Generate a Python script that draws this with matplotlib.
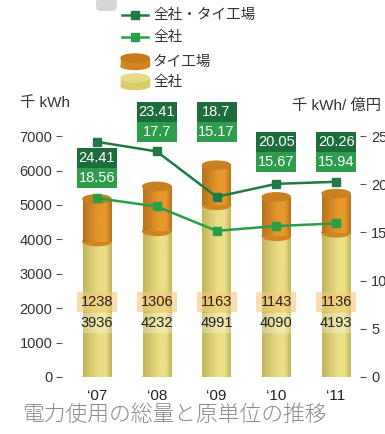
import numpy as np
import matplotlib
matplotlib.use("Agg")
import matplotlib.pyplot as plt
from matplotlib.patches import Ellipse, Rectangle, FancyBboxPatch
from matplotlib.lines import Line2D
from matplotlib.transforms import blended_transform_factory

plt.rcParams['font.family'] = ['Liberation Sans', 'Noto Sans CJK JP', 'DejaVu Sans']

# data
years = ["‘07", "‘08", "‘09", "‘10", "‘11"]
zensha = [3936, 4232, 4991, 4090, 4193]          # 全社 (千 kWh)
thai = [1238, 1306, 1163, 1143, 1136]            # タイ工場 (千 kWh)
unit_all = [24.41, 23.41, 18.7, 20.05, 20.26]    # 全社・タイ工場 (千 kWh/億円)
unit_zensha = [18.56, 17.7, 15.17, 15.67, 15.94] # 全社 (千 kWh/億円)

# label box heights (axes fraction) – layout only
box_y = [0.755, 0.921, 0.921, 0.812, 0.812]

W, H = 385, 434
fig = plt.figure(figsize=(W / 100, H / 100), dpi=100)


def fx(px):
    return px / W


def fy(py):
    return 1 - py / H


ax = fig.add_axes([fx(62), fy(377), fx(360) - fx(62), fy(100) - fy(377)])
ax2 = ax.twinx()
ax.set_zorder(1)
ax2.set_zorder(2)
ax.patch.set_visible(False)
ax2.patch.set_visible(False)

x = np.arange(len(years))
bw = 0.47
ell_h = 240
ax.set_xlim(-0.585, 4.4)
ax.set_ylim(0, 8050)
ax2.set_ylim(0, 8050 / 280)


def grad_cmap(c_dark, c_light):
    from matplotlib.colors import LinearSegmentedColormap
    return LinearSegmentedColormap.from_list(
        "g", [(0, c_dark), (0.55, c_light), (0.8, c_light), (1, c_dark)])


yel = grad_cmap("#c2b45a", "#eadf86")
org = grad_cmap("#b8721c", "#e6982c")
grad = np.linspace(0, 1, 64).reshape(1, -1)

for i in range(len(years)):
    segs = [(0, zensha[i], yel, "#d8cb6e", "#e2d88a"),
            (zensha[i], zensha[i] + thai[i], org, "#cf8522", "#c98020")]
    for k, (b, t, cm, cbot, ctop) in enumerate(segs):
        z = 2 + k * 2
        ax.add_patch(Ellipse((x[i], b), bw, ell_h, color=cbot, zorder=z))
        ax.imshow(grad, cmap=cm, aspect="auto", zorder=z + 0.1,
                  extent=(x[i] - bw / 2, x[i] + bw / 2, b, t), interpolation="bilinear")
        ax.add_patch(Ellipse((x[i], t), bw, ell_h, color=ctop, zorder=z + 0.2))

ax.set_xlim(-0.585, 4.4)
ax.set_ylim(0, 8050)

# value labels on bars
for i in range(len(years)):
    ax.add_patch(Rectangle((x[i] - 0.335, 2180 - 280), 0.67, 560,
                           facecolor="#f7c77a", alpha=0.6, edgecolor="none", zorder=6))
    ax.add_patch(Rectangle((x[i] - 0.335, 1570 - 280), 0.67, 560,
                           facecolor="#ffffff", alpha=0.3, edgecolor="none", zorder=6))
    ax.text(x[i], 2180, str(thai[i]), ha="center", va="center", fontsize=10.5,
            color="#222222", zorder=7)
    ax.text(x[i], 1570, str(zensha[i]), ha="center", va="center", fontsize=10.5,
            color="#222222", zorder=7)

# lines
c_dark = "#1f7a45"
c_green = "#2a9f48"
ax2.plot(x, unit_all, color=c_dark, lw=1.8, marker="s", ms=5.5, zorder=5)
ax2.plot(x, unit_zensha, color=c_green, lw=1.8, marker="s", ms=5.5, zorder=5)

tr2 = blended_transform_factory(ax2.transData, ax2.transAxes)
bh = 0.071
for i in range(len(years)):
    ax2.add_patch(Rectangle((x[i] - 0.335, box_y[i]), 0.67, bh, transform=tr2,
                            facecolor="#1e6b3c", edgecolor="none", zorder=8, clip_on=False))
    ax2.add_patch(Rectangle((x[i] - 0.335, box_y[i] - bh), 0.67, bh, transform=tr2,
                            facecolor="#2e9d4b", edgecolor="none", zorder=8, clip_on=False))
    ax2.text(x[i], box_y[i] + bh / 2, f"{unit_all[i]}", transform=tr2, ha="center",
             va="center", color="white", fontsize=10.5, zorder=9)
    ax2.text(x[i], box_y[i] - bh / 2, f"{unit_zensha[i]}", transform=tr2, ha="center",
             va="center", color="white", fontsize=10.5, zorder=9)

# axes styling
for a in (ax, ax2):
    for s in a.spines.values():
        s.set_visible(False)
ax.set_xticks(x)
ax.set_xticklabels(years, fontsize=11, color="#222222")
ax.tick_params(axis="x", length=0, pad=9)
ax.set_yticks(range(0, 7001, 1000))
ax.tick_params(axis="y", labelsize=10.5, labelcolor="#333333", length=4,
               color="#555555", pad=3)
ax2.set_yticks(range(0, 26, 5))
ax2.tick_params(axis="y", labelsize=10.5, labelcolor="#333333", length=4,
                color="#555555", pad=4)

fig.text(fx(20), fy(110), "千 kWh", fontsize=11, color="#333333", va="bottom")
fig.text(fx(292), fy(113), "千 kWh/ 億円", fontsize=11, color="#333333", va="bottom")

# title
fig.text(fx(22), fy(415), "電力使用の総量と原単位の推移", fontsize=15.7,
         color="#8a8a8a", va="center", family=["Noto Sans CJK JP"], fontweight="light")

# legend
for py, col, lab in [(15, c_dark, "全社・タイ工場"), (37, c_green, "全社")]:
    fig.add_artist(Line2D([fx(122), fx(148)], [fy(py), fy(py)], color=col, lw=1.8))
    fig.add_artist(Line2D([fx(135)], [fy(py)], color=col, marker="s", ms=5.5))
    fig.text(fx(153), fy(py), lab, fontsize=10.5, color="#333333", va="center")

for py, cside, ctop, lab in [(62, "#d0851f", "#c77b1a", "タイ工場"),
                             (82, "#d9cc6c", "#e4da88", "全社")]:
    fig.add_artist(Ellipse((fx(135), fy(py + 4)), fx(28), 7 / H, color=cside))
    fig.add_artist(Rectangle((fx(121), fy(py + 4)), fx(28), 8 / H, color=cside))
    fig.add_artist(Ellipse((fx(135), fy(py - 4)), fx(28), 8 / H, color=ctop))
    fig.text(fx(153), fy(py), lab, fontsize=10.5, color="#333333", va="center")

# small grey icon at top (cut off)
fig.add_artist(FancyBboxPatch((fx(96), fy(11)), fx(21), 13 / H,
                              boxstyle="round,pad=0,rounding_size=0.012",
                              facecolor="#d6d6d6", edgecolor="none"))

fig.savefig("out.png", dpi=100)
